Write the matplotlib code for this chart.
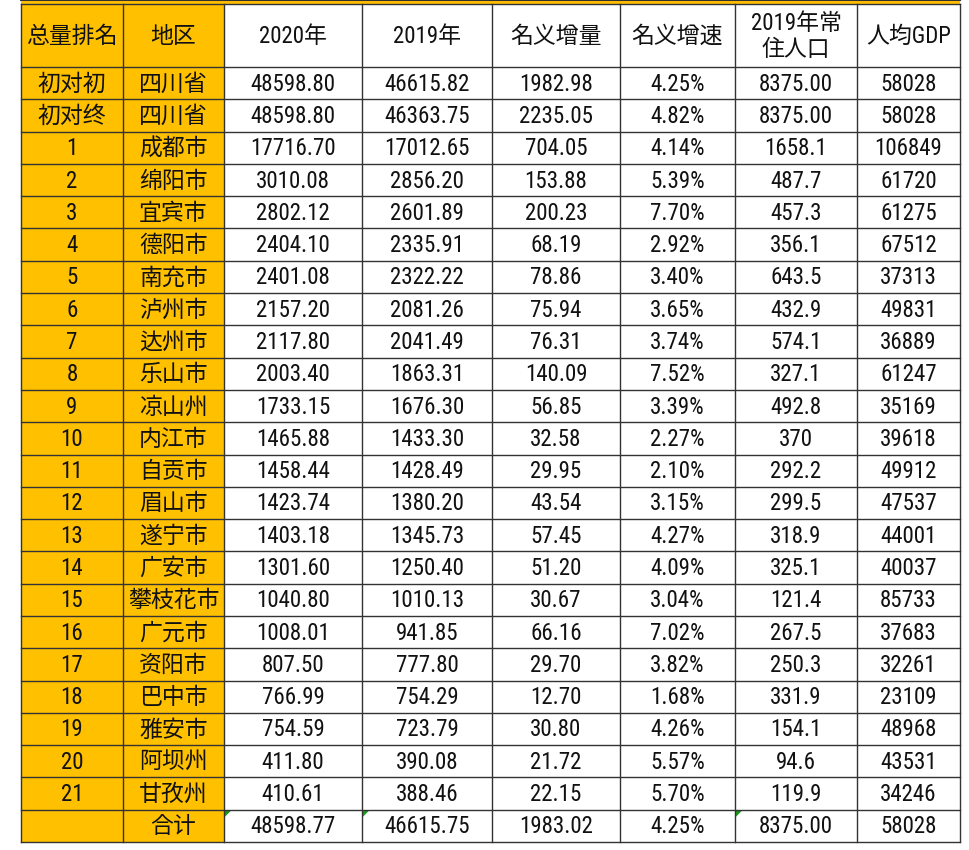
import glob
import matplotlib
matplotlib.use("Agg")
import matplotlib.pyplot as plt
from matplotlib import font_manager as fm
from matplotlib.patches import Rectangle, Polygon

headers = ["总量排名", "地区", "2020年", "2019年", "名义增量", "名义增速", "2019年常\n住人口", "人均GDP"]
ranks = ["初对初", "初对终"] + [str(i) for i in range(1, 22)] + [""]
regions = ["四川省", "四川省", "成都市", "绵阳市", "宜宾市", "德阳市", "南充市", "泸州市", "达州市", "乐山市",
           "凉山州", "内江市", "自贡市", "眉山市", "遂宁市", "广安市", "攀枝花市", "广元市", "资阳市", "巴中市",
           "雅安市", "阿坝州", "甘孜州", "合计"]
gdp2020 = ["48598.80", "48598.80", "17716.70", "3010.08", "2802.12", "2404.10", "2401.08", "2157.20", "2117.80",
           "2003.40", "1733.15", "1465.88", "1458.44", "1423.74", "1403.18", "1301.60", "1040.80", "1008.01",
           "807.50", "766.99", "754.59", "411.80", "410.61", "48598.77"]
gdp2019 = ["46615.82", "46363.75", "17012.65", "2856.20", "2601.89", "2335.91", "2322.22", "2081.26", "2041.49",
           "1863.31", "1676.30", "1433.30", "1428.49", "1380.20", "1345.73", "1250.40", "1010.13", "941.85",
           "777.80", "754.29", "723.79", "390.08", "388.46", "46615.75"]
increase = ["1982.98", "2235.05", "704.05", "153.88", "200.23", "68.19", "78.86", "75.94", "76.31", "140.09",
            "56.85", "32.58", "29.95", "43.54", "57.45", "51.20", "30.67", "66.16", "29.70", "12.70", "30.80",
            "21.72", "22.15", "1983.02"]
growth = ["4.25%", "4.82%", "4.14%", "5.39%", "7.70%", "2.92%", "3.40%", "3.65%", "3.74%", "7.52%", "3.39%",
          "2.27%", "2.10%", "3.15%", "4.27%", "4.09%", "3.04%", "7.02%", "3.82%", "1.68%", "4.26%", "5.57%",
          "5.70%", "4.25%"]
population = ["8375.00", "8375.00", "1658.1", "487.7", "457.3", "356.1", "643.5", "432.9", "574.1", "327.1",
              "492.8", "370", "292.2", "299.5", "318.9", "325.1", "121.4", "267.5", "250.3", "331.9", "154.1",
              "94.6", "119.9", "8375.00"]
per_capita = ["58028", "58028", "106849", "61720", "61275", "67512", "37313", "49831", "36889", "61247", "35169",
              "39618", "49912", "47537", "44001", "40037", "85733", "37683", "32261", "23109", "48968", "43531",
              "34246", "58028"]

cjk_name = "Noto Sans CJK SC"
cands = glob.glob("/usr/share/fonts/**/NotoSansCJK-Regular.ttc", recursive=True) + \
        glob.glob("/usr/share/fonts/**/NotoSansCJK*Regular*", recursive=True)
if cands:
    fm.fontManager.addfont(cands[0])
    cjk_name = fm.FontProperties(fname=cands[0]).get_name()
names = set(f.name for f in fm.fontManager.ttflist)
latin = "Liberation Sans Narrow" if "Liberation Sans Narrow" in names else ("Roboto Condensed" if "Roboto Condensed" in names else "Liberation Sans")
font = [latin, cjk_name]

cols = [ranks, regions, gdp2020, gdp2019, increase, growth, population, per_capita]
xb = [21, 123, 224, 362, 492, 620, 735, 857, 960]
top_strip = 4
head_bot = 67
bottom = 842
nrows = len(ranks)
rh = (bottom - head_bot) / nrows
yellow = "#FFC000"

fig = plt.figure(figsize=(9.69, 8.5), dpi=100)
ax = fig.add_axes([0, 0, 1, 1])
ax.set_xlim(0, 969)
ax.set_ylim(850, 0)
ax.axis("off")

ax.add_patch(Rectangle((xb[0], 0), xb[-1] - xb[0], top_strip, color=yellow, lw=0))
ax.add_patch(Rectangle((xb[0], top_strip), xb[2] - xb[0], bottom - top_strip, color=yellow, lw=0))

def txt(x, y, s, size=16.5):
    ax.text(x, y, s, ha="center", va="center", fontsize=size, family=font, color="#111111", linespacing=1.15)

for j, h in enumerate(headers):
    txt((xb[j] + xb[j + 1]) / 2, (top_strip + head_bot) / 2 + 1, h)
for j, col in enumerate(cols):
    for i, v in enumerate(col):
        y = head_bot + (i + 0.5) * rh
        txt((xb[j] + xb[j + 1]) / 2, y + 1, v)

ys = [top_strip, head_bot] + [head_bot + (i + 1) * rh for i in range(nrows)]
for y in ys:
    ax.plot([xb[0], xb[-1]], [y, y], color="#333333", lw=1)
for x in xb:
    ax.plot([x, x], [top_strip, bottom], color="#333333", lw=1)
ax.plot([xb[0], xb[-1]], [0, 0], color="#333333", lw=1.5)

ty = head_bot + (nrows - 1) * rh
for j in (2, 3, 6):
    x0 = xb[j] + 1
    ax.add_patch(Polygon([[x0, ty + 1], [x0 + 6, ty + 1], [x0, ty + 7]], color="#1a9a1a", lw=0))

fig.savefig("out.png", dpi=100)
